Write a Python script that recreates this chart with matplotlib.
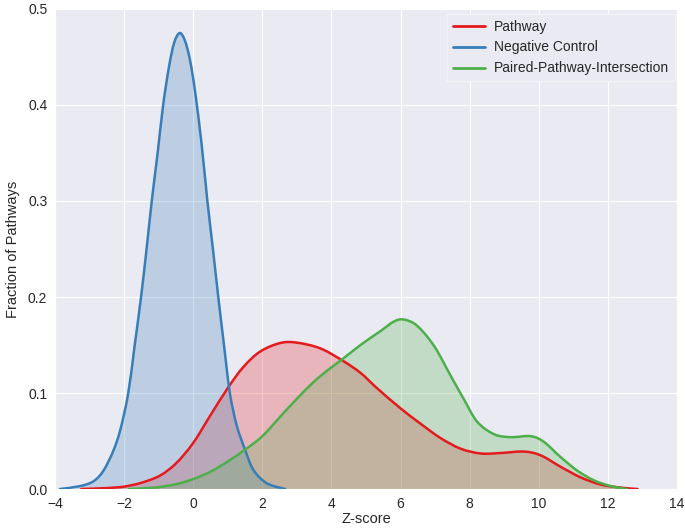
import matplotlib
matplotlib.use("Agg")
import matplotlib.pyplot as plt
from matplotlib.path import Path
from matplotlib.patches import PathPatch
from matplotlib.lines import Line2D
import numpy as np
import seaborn as sns

sns.set_style("darkgrid")
plt.rcParams['font.family'] = ['Liberation Sans', 'DejaVu Sans']

# Curve samples (x = Z-score, y = density)
pathway_x = [-3.24, -2.5, -2.0, -1.5, -0.96, -0.49, 0.0, 0.485, 1.015, 1.45, 1.93, 2.51,
             2.99, 3.67, 4.31, 4.84, 5.32, 6.0, 6.58, 7.16, 7.74, 8.32, 8.90, 9.57, 10.06,
             10.64, 11.22, 11.80, 12.38, 12.86]
pathway_y = [0.0, 0.001, 0.0025, 0.0065, 0.014, 0.027, 0.048, 0.076, 0.106, 0.127, 0.143,
             0.152, 0.1525, 0.1466, 0.134, 0.121, 0.105, 0.084, 0.068, 0.053, 0.042, 0.037,
             0.0375, 0.039, 0.035, 0.023, 0.012, 0.0046, 0.0014, 0.0]

negative_x = [-3.86, -3.28, -2.89, -2.60, -2.31, -2.10, -1.88, -1.70, -1.51, -1.35, -1.20,
              -1.03, -0.87, -0.70, -0.55, -0.39, -0.24, -0.10, 0.05, 0.24, 0.41, 0.57,
              0.725, 0.89, 1.06, 1.26, 1.50, 1.74, 2.13, 2.66]
negative_y = [0.0, 0.003, 0.008, 0.019, 0.040, 0.063, 0.100, 0.148, 0.200, 0.250, 0.300,
              0.350, 0.400, 0.440, 0.465, 0.475, 0.467, 0.448, 0.415, 0.360, 0.300, 0.250,
              0.200, 0.150, 0.100, 0.066, 0.041, 0.020, 0.006, 0.0]

paired_x = [-1.86, -1.11, -0.5, 0.0, 0.5, 0.97, 1.50, 2.0, 2.51, 3.0, 3.47, 3.9, 4.31,
            4.84, 5.4, 5.81, 6.10, 6.48, 6.97, 7.45, 7.84, 8.22, 8.71, 9.19, 9.77, 10.15,
            10.64, 11.12, 11.60, 12.09, 12.55]
paired_y = [0.0, 0.0015, 0.005, 0.0104, 0.018, 0.028, 0.041, 0.055, 0.075, 0.094, 0.111,
            0.124, 0.135, 0.150, 0.164, 0.1745, 0.1765, 0.170, 0.149, 0.118, 0.093, 0.070,
            0.057, 0.054, 0.055, 0.049, 0.033, 0.019, 0.009, 0.003, 0.0]

labels = ["Pathway", "Negative Control", "Paired-Pathway-Intersection"]
colors = ["#E41A1C", "#377EB8", "#4DAF4A"]
series_x = [pathway_x, negative_x, paired_x]
series_y = [pathway_y, negative_y, paired_y]


def smooth_path_codes(xs, ys):
    """Catmull-Rom style cubic Bezier path through the read points."""
    p = np.column_stack([xs, ys]).astype(float)
    n = len(p)
    verts = [p[0]]
    codes = [Path.MOVETO]
    for i in range(n - 1):
        p0 = p[i - 1] if i > 0 else p[i]
        p1 = p[i]
        p2 = p[i + 1]
        p3 = p[i + 2] if i + 2 < n else p[i + 1]
        c1 = p1 + (p2 - p0) / 6.0
        c2 = p2 - (p3 - p1) / 6.0
        c1[1] = max(c1[1], 0.0)
        c2[1] = max(c2[1], 0.0)
        verts += [c1, c2, p2]
        codes += [Path.CURVE4] * 3
    return verts, codes


fig = plt.figure(figsize=(6.85, 5.29), dpi=100)
ax = fig.add_axes([0.0803, 0.0756, 0.9080, 0.9074])

handles = []
for label, xs, ys, color in zip(labels, series_x, series_y, colors):
    verts, codes = smooth_path_codes(xs, ys)
    fill_verts = verts + [(xs[-1], 0.0), (xs[0], 0.0), (xs[0], 0.0)]
    fill_codes = codes + [Path.LINETO, Path.LINETO, Path.CLOSEPOLY]
    ax.add_patch(PathPatch(Path(fill_verts, fill_codes), facecolor=color, alpha=0.25,
                           edgecolor="none", lw=0, zorder=1.5))
    ax.add_patch(PathPatch(Path(verts, codes), facecolor="none", edgecolor=color,
                           lw=1.8, capstyle="round", joinstyle="round", zorder=3))
    handles.append(Line2D([], [], color=color, lw=2.0, label=label))

ax.set_xlim(-4, 14)
ax.set_ylim(0, 0.5)
ax.set_xticks(range(-4, 15, 2))
ax.set_xticklabels([str(v).replace('-', '\u2212') for v in range(-4, 15, 2)])
ax.set_yticks([0.0, 0.1, 0.2, 0.3, 0.4, 0.5])
ax.set_yticklabels(["0.0", "0.1", "0.2", "0.3", "0.4", "0.5"])
ax.tick_params(labelsize=10, colors="#262626", pad=2)
ax.set_xlabel("Z-score", fontsize=10.5, color="#262626", labelpad=1)
ax.set_ylabel("Fraction of Pathways", fontsize=10.5, color="#262626", labelpad=6)

leg = ax.legend(handles=handles, loc="upper right", bbox_to_anchor=(0.9968, 0.9896),
                fontsize=10, frameon=True, facecolor="#EAEAF2", edgecolor="#F2F2F7",
                framealpha=1.0, fancybox=False, handlelength=2.3, handletextpad=0.7,
                borderaxespad=0.0)
leg.set_zorder(5)

fig.savefig("out.png", dpi=100)
